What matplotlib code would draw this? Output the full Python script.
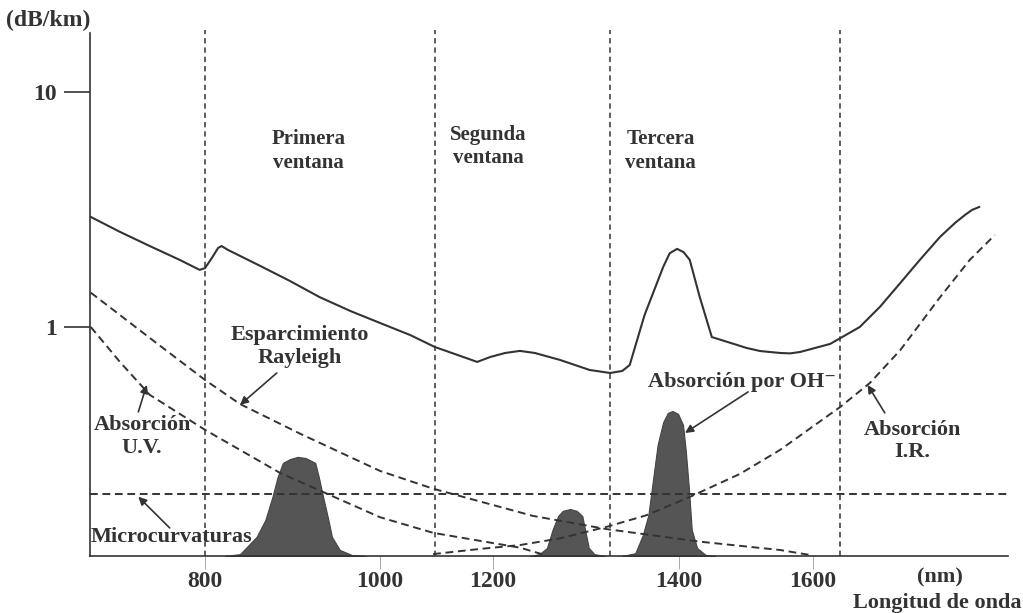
import numpy as np
import matplotlib.pyplot as plt

plt.rcParams['font.family'] = ['Liberation Serif', 'DejaVu Serif']

# atenuacion total (nm, dB/km)
total_nm = [651, 689, 728, 767, 793, 800, 808, 815, 819, 826, 863, 897, 931, 966,
            1000, 1053, 1097, 1142, 1172, 1195, 1213, 1229, 1245, 1272, 1304, 1326,
            1339, 1347, 1363, 1383, 1390, 1398, 1407, 1416, 1431, 1449, 1501, 1521,
            1551, 1566, 1581, 1622, 1660, 1686, 1712, 1737, 1763, 1782, 1795, 1804, 1813]
total_db = [2.94, 2.54, 2.21, 1.93, 1.75, 1.78, 1.97, 2.17, 2.21, 2.13, 1.82, 1.57, 1.34, 1.17,
            1.04, 0.925, 0.822, 0.753, 0.710, 0.745, 0.775, 0.791, 0.775, 0.724, 0.656, 0.637,
            0.650, 0.689, 1.125, 1.80, 2.06, 2.15, 2.08, 1.93, 1.34, 0.906, 0.814, 0.790,
            0.775, 0.772, 0.783, 0.847, 1.00, 1.22, 1.54, 1.93, 2.42, 2.77, 3.00, 3.15, 3.24]

# esparcimiento Rayleigh
ray_nm = [651, 728, 800, 840, 909, 1000, 1094, 1243, 1322, 1431, 1551, 1596]
ray_db = [1.40, 0.898, 0.595, 0.470, 0.351, 0.244, 0.205, 0.157, 0.138, 0.122, 0.1124, 0.107]

# absorcion ultravioleta
uv_nm = [651, 689, 728, 800, 886, 1000, 1094, 1229, 1256]
uv_db = [1.00, 0.71, 0.514, 0.365, 0.239, 0.155, 0.133, 0.115, 0.107]

# absorcion infrarroja
ir_nm = [1094, 1177, 1229, 1272, 1322, 1365, 1416, 1491, 1551, 1635, 1673, 1712, 1763, 1801, 1833]
ir_db = [0.108, 0.1136, 0.118, 0.126, 0.141, 0.158, 0.189, 0.237, 0.300, 0.457, 0.578, 0.798,
         1.34, 1.93, 2.46]

# microcurvaturas
micro_db = 0.195

# picos de absorcion por OH
p1_nm = [823, 840, 859, 869, 877, 883, 889, 897, 906, 915, 926, 930, 935, 941, 945, 954, 968, 983]
p1_db = [0.106, 0.108, 0.128, 0.151, 0.189, 0.230, 0.264, 0.274, 0.280, 0.277, 0.264, 0.230,
         0.189, 0.151, 0.128, 0.1125, 0.107, 0.106]
p2_nm = [1240, 1250, 1258, 1264, 1270, 1275, 1283, 1290, 1296, 1299, 1303, 1309, 1320]
p2_db = [0.106, 0.108, 0.1147, 0.137, 0.157, 0.165, 0.168, 0.165, 0.157, 0.137, 0.1147, 0.108, 0.106]
p3_nm = [1339, 1353, 1361, 1367, 1372, 1377, 1383, 1388, 1393, 1399, 1406, 1410, 1415, 1419,
         1427, 1440, 1454]
p3_db = [0.106, 0.109, 0.130, 0.158, 0.223, 0.315, 0.394, 0.431, 0.439, 0.427, 0.383, 0.300,
         0.202, 0.137, 0.1147, 0.107, 0.106]

ventanas = [800, 1097, 1326, 1635]
xticks = [800, 1000, 1200, 1400, 1600]

# el eje x del dibujo original no es lineal: nodos de calibracion
knots_nm = [0, 650, 800, 1000, 1200, 1400, 1600, 1850, 5000]
knots_u = [-408.3, 90, 205, 380, 493, 679, 813, 1008, 3465]


def fwd(x):
    return np.interp(x, knots_nm, knots_u)


def inv(u):
    return np.interp(u, knots_u, knots_nm)


ink = '#333333'
ymin, ymax = 0.106, 18.36
dash = (0, (4, 2.4))

fig = plt.figure(figsize=(10.23, 6.13), dpi=100)
ax = fig.add_axes([90 / 1023, 57 / 613, 918 / 1023, 526 / 613])
ax.set_xscale('function', functions=(fwd, inv))
ax.set_yscale('log')
ax.set_xlim(650, 1850)
ax.set_ylim(ymin, ymax)

for v in ventanas:
    ax.plot([v, v], [ymin, ymax], color=ink, lw=1.1, ls=(0, (3.5, 2.6)), clip_on=False)

ax.axhline(micro_db, color=ink, lw=1.4, ls=dash)
ax.plot(ray_nm, ray_db, color=ink, lw=1.4, ls=dash)
ax.plot(uv_nm, uv_db, color=ink, lw=1.4, ls=dash)
ax.plot(ir_nm, ir_db, color=ink, lw=1.4, ls=dash)

for xs, ys in [(p1_nm, p1_db), (p2_nm, p2_db), (p3_nm, p3_db)]:
    ax.fill_between(xs, ymin, ys, color='#555555', lw=0.8, edgecolor='#444444')

ax.plot(total_nm, total_db, color=ink, lw=1.5)

for s in ['top', 'right']:
    ax.spines[s].set_visible(False)
ax.spines['left'].set_bounds(ymin, 17.8)
for s in ['left', 'bottom']:
    ax.spines[s].set_color(ink)
    ax.spines[s].set_linewidth(1.2)

ax.set_yticks([1, 10])
ax.set_yticklabels(['1', '10'])
ax.yaxis.set_minor_locator(plt.NullLocator())
ax.tick_params(axis='y', direction='out', length=19, width=1.2, color=ink, pad=5,
               labelsize=17, labelcolor=ink)
ax.set_xticks(xticks)
ax.set_xticklabels([str(t) for t in xticks])
ax.xaxis.set_minor_locator(plt.NullLocator())
ax.tick_params(axis='x', direction='out', length=9, width=0.6, color='#999999', pad=2,
               labelsize=17, labelcolor=ink)
for lab in ax.get_xticklabels() + ax.get_yticklabels():
    lab.set_fontweight('bold')

tk = dict(color=ink, fontsize=16, fontweight='bold', ha='center', va='center', linespacing=1.15)
wk = dict(tk, fontsize=15, linespacing=1.25)
ax.text(918, 5.61, 'Primera\nventana', **wk)
ax.text(1191, 5.86, 'Segunda\nventana', **wk)
ax.text(1380, 5.61, 'Tercera\nventana', **wk)
ax.text(908, 0.826, 'Esparcimiento\nRayleigh', **tk)
ax.text(718, 0.342, 'Absorción\nU.V.', **tk)
ax.text(756, 0.128, 'Microcurvaturas', **tk)
ax.text(1494, 0.583, 'Absorción por OH⁻', **tk)
ax.text(1727, 0.326, 'Absorción\nI.R.', **tk)

arrow = dict(arrowstyle='-|>', color=ink, lw=1.2, mutation_scale=12, shrinkA=0, shrinkB=0)
ax.annotate('', xy=(840, 0.466), xytext=(882, 0.637), arrowprops=arrow)
ax.annotate('', xy=(724, 0.567), xytext=(713, 0.435), arrowprops=arrow)
ax.annotate('', xy=(713, 0.1895), xytext=(754, 0.1395), arrowprops=arrow)
ax.annotate('', xy=(1409, 0.354), xytext=(1503, 0.529), arrowprops=arrow)
ax.annotate('', xy=(1670, 0.567), xytext=(1692, 0.431), arrowprops=arrow)

fig.text(48 / 1023, 1 - 20 / 613, '(dB/km)', color=ink, fontsize=17, fontweight='bold',
         ha='center', va='center')
fig.text(940 / 1023, 1 - 577 / 613, '(nm)', color=ink, fontsize=16, fontweight='bold',
         ha='center', va='center')
fig.text(937 / 1023, 1 - 603 / 613, 'Longitud de onda', color=ink, fontsize=16,
         fontweight='bold', ha='center', va='center')

fig.savefig('out.png', dpi=100)
